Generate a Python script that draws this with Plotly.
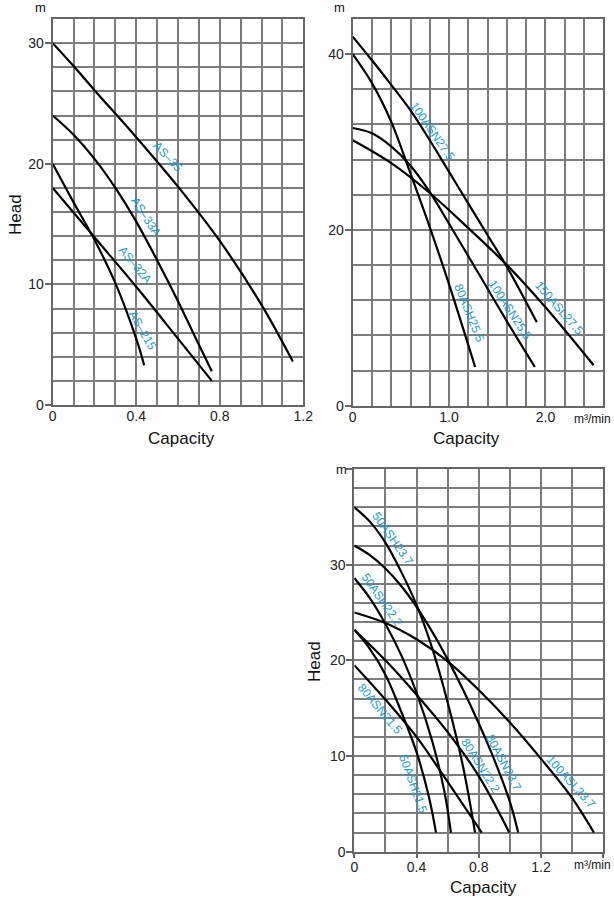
import plotly.graph_objects as go

# ---------------- DATA ----------------
# Panel 1 (top-left)
p1_names = ["AS–35", "AS–33A", "AS–32A", "AS–215"]
p1_q = [
    [0, 0.1, 0.2, 0.4, 0.6, 0.8, 1.0, 1.15],
    [0, 0.1, 0.2, 0.3, 0.4, 0.5, 0.6, 0.7, 0.762],
    [0, 0.2, 0.4, 0.6, 0.762],
    [0, 0.1, 0.2, 0.3, 0.4, 0.438],
]
p1_h = [
    [30, 28.1, 26.1, 22.2, 18.1, 13.6, 8.3, 3.6],
    [24, 22.4, 20.4, 18.0, 15.2, 12.0, 8.6, 5.0, 2.8],
    [18, 13.9, 9.8, 5.5, 2.0],
    [20, 16.8, 13.7, 10.1, 5.5, 3.3],
]
p1_lab_q = [0.553, 0.447, 0.395, 0.428]
p1_lab_h = [20.6, 15.6, 11.6, 6.2]
p1_lab_ang = [47, 57, 50, 60]

# Panel 2 (top-right)
p2_names = ["100ASN27.5", "80ASH25.5", "100ASN25.5", "150ASL27.5"]
p2_q = [
    [0, 0.2, 0.4, 0.6, 0.8, 1.0, 1.2, 1.4, 1.6, 1.91],
    [0, 0.2, 0.4, 0.6, 0.8, 1.0, 1.27],
    [0, 0.2, 0.4, 0.6, 0.8, 1.0, 1.2, 1.4, 1.6, 1.89],
    [0, 0.4, 0.8, 1.2, 1.6, 2.0, 2.5],
]
p2_h = [
    [42, 39.3, 36.5, 33.6, 30.2, 26.6, 23.0, 19.4, 15.8, 9.5],
    [40, 36.7, 32.3, 26.4, 20.3, 13.8, 4.4],
    [31.6, 31.0, 29.5, 27.3, 24.3, 20.7, 17.0, 13.3, 9.6, 4.4],
    [30.2, 27.6, 24.2, 20.2, 16.0, 11.2, 4.6],
]
p2_lab_q = [0.823, 1.207, 1.632, 2.14]
p2_lab_h = [31.2, 10.5, 10.9, 11.1]
p2_lab_ang = [55, 68, 57, 49]

# Panel 3 (bottom-right)
p3_names = ["50ASH23.7", "80ASN23.7", "50ASH22.2", "100ASL23.7",
            "50ASH21.5", "80ASN22.2", "80ASN21.5"]
p3_q = [
    [0, 0.1, 0.2, 0.3, 0.4, 0.5, 0.6, 0.7, 0.776],
    [0, 0.1, 0.2, 0.3, 0.4, 0.5, 0.6, 0.7, 0.8, 0.9, 1.0, 1.053],
    [0, 0.1, 0.2, 0.3, 0.4, 0.5, 0.58, 0.621],
    [0, 0.2, 0.4, 0.6, 0.8, 1.0, 1.2, 1.4, 1.54],
    [0, 0.1, 0.2, 0.3, 0.4, 0.48, 0.525],
    [0, 0.2, 0.4, 0.6, 0.8, 0.996],
    [0, 0.2, 0.4, 0.6, 0.819],
]
p3_h = [
    [36, 34.5, 32.3, 29.3, 25.8, 21.3, 15.6, 8.8, 2.0],
    [32, 31.0, 29.6, 27.8, 25.6, 23.0, 20.1, 16.9, 13.4, 9.6, 5.2, 2.0],
    [28.6, 26.5, 23.8, 20.6, 16.6, 11.6, 6.2, 2.0],
    [25, 23.9, 22.2, 19.9, 16.9, 13.5, 9.7, 5.6, 2.0],
    [23.2, 21.2, 18.5, 14.7, 10.4, 5.7, 2.0],
    [23.2, 20.0, 16.4, 12.5, 7.9, 2.0],
    [19.5, 15.9, 12.0, 7.3, 2.0],
]
p3_lab_q = [0.249, 0.962, 0.178, 1.393, 0.377, 0.814, 0.165]
p3_lab_h = [32.7, 9.3, 26.3, 7.3, 7.05, 9.0, 14.9]
p3_lab_ang = [55, 62, 55, 48, 70, 58, 50]

# ---------------- FIGURE ----------------
W, H = 614, 900
BLUE = "#1a9ad7"
GRID = "#7c7c7c"
FONT = "Liberation Sans, Arial, sans-serif"

fig = go.Figure()

def add_panel(qs, hs, xa, ya):
    for q, h in zip(qs, hs):
        fig.add_trace(go.Scatter(x=q, y=h, mode="lines", xaxis=xa, yaxis=ya,
                                 line=dict(color="black", width=2.2, shape="spline", smoothing=1.0),
                                 showlegend=False, hoverinfo="skip"))

add_panel(p1_q, p1_h, "x", "y")
add_panel(p2_q, p2_h, "x2", "y2")
add_panel(p3_q, p3_h, "x3", "y3")

def px2paper(x, y):
    return x / W, 1 - y / H

def dom(x0, x1, y0, y1):
    return [x0 / W, x1 / W], [1 - y1 / H, 1 - y0 / H]

d1x, d1y = dom(52.7, 303.3, 19, 405)
d2x, d2y = dom(352.7, 603.3, 19, 405.7)
d3x, d3y = dom(354.3, 603.3, 469, 851.7)

def xaxis(domain, anchor, rng, dtick, mdtick, alias=None, tlen=4):
    d = dict(domain=domain, anchor=anchor, range=rng, tickmode="linear", tick0=0, dtick=dtick,
             showgrid=True, gridcolor=GRID, gridwidth=2, zeroline=False, automargin=False,
             showline=True, linecolor="#666", linewidth=2, mirror=True,
             ticks="outside", ticklen=tlen, tickcolor="#666", tickwidth=2,
             ticklabelstandoff=-3,
             tickfont=dict(size=14, color="#222", family=FONT),
             minor=dict(tick0=0, dtick=mdtick, showgrid=True, gridcolor=GRID, gridwidth=2, ticks=""),
             fixedrange=True)
    if alias:
        d["labelalias"] = alias
    return d

def yaxis(domain, anchor, rng, dtick, mdtick, alias=None):
    d = dict(domain=domain, anchor=anchor, range=rng, tickmode="linear", tick0=0, dtick=dtick,
             showgrid=True, gridcolor=GRID, gridwidth=2, zeroline=False, automargin=False,
             showline=True, linecolor="#666", linewidth=2, mirror=True,
             ticks="outside", ticklen=6, tickcolor="#666", tickwidth=2,
             ticklabelstandoff=-2,
             tickfont=dict(size=14, color="#222", family=FONT),
             minor=dict(tick0=0, dtick=mdtick, showgrid=True, gridcolor=GRID, gridwidth=2, ticks=""),
             fixedrange=True)
    if alias:
        d["labelalias"] = alias
    return d

fig.update_layout(
    width=W, height=H, margin=dict(l=0, r=0, t=0, b=0, pad=0, autoexpand=False),
    paper_bgcolor="white", plot_bgcolor="white",
    font=dict(family=FONT, color="#222"),
    xaxis=xaxis(d1x, "y", [0, 1.2], 0.4, 0.1, tlen=0),
    yaxis=yaxis(d1y, "x", [0, 32], 10, 2),
    xaxis2=xaxis(d2x, "y2", [0, 2.6], 1.0, 0.2, alias={"1": "1.0", "2": "2.0"}, tlen=0),
    yaxis2=yaxis(d2y, "x2", [0, 44], 20, 4),
    xaxis3=xaxis(d3x, "y3", [0, 1.6], 0.4, 0.2, alias={"1.6": ""}, tlen=4),
    yaxis3=yaxis(d3y, "x3", [0, 40], 10, 2, alias={"40": ""}),
)

ann = []

def curve_labels(names, lq, lh, ang, xr, yr):
    for n, q, h, a in zip(names, lq, lh, ang):
        ann.append(dict(text=n, x=q, y=h, xref=xr, yref=yr, showarrow=False, textangle=a,
                        font=dict(size=12, color=BLUE, family=FONT)))

curve_labels(p1_names, p1_lab_q, p1_lab_h, p1_lab_ang, "x", "y")
curve_labels(p2_names, p2_lab_q, p2_lab_h, p2_lab_ang, "x2", "y2")
curve_labels(p3_names, p3_lab_q, p3_lab_h, p3_lab_ang, "x3", "y3")

def ptext(t, x, y, size, angle=0):
    px, py = px2paper(x, y)
    ann.append(dict(text=t, x=px, y=py, xref="paper", yref="paper", showarrow=False,
                    textangle=angle, xanchor="center", yanchor="middle",
                    font=dict(size=size, color="#111", family=FONT)))

ptext("m", 40, 8, 13)
ptext("m", 339, 8, 13)
ptext("m", 341, 469, 13)
ptext("Head", 15, 215, 17, -90)
ptext("Head", 314, 662, 17, -90)
ptext("Capacity", 181, 438, 17)
ptext("Capacity", 466, 438, 17)
ptext("Capacity", 483, 887, 17)
ptext("m³/min", 592, 419, 12)
ptext("m³/min", 592, 865, 12)

fig.update_layout(annotations=ann)
fig.write_html("out.html", config={"displayModeBar": False, "staticPlot": True})

# remove default page margins so the figure sits at the window's top-left corner
with open("out.html", "r", encoding="utf-8") as f:
    html = f.read()
html = html.replace("<head>", "<head><style>html,body{margin:0;padding:0;overflow:hidden;}</style>", 1)
with open("out.html", "w", encoding="utf-8") as f:
    f.write(html)
